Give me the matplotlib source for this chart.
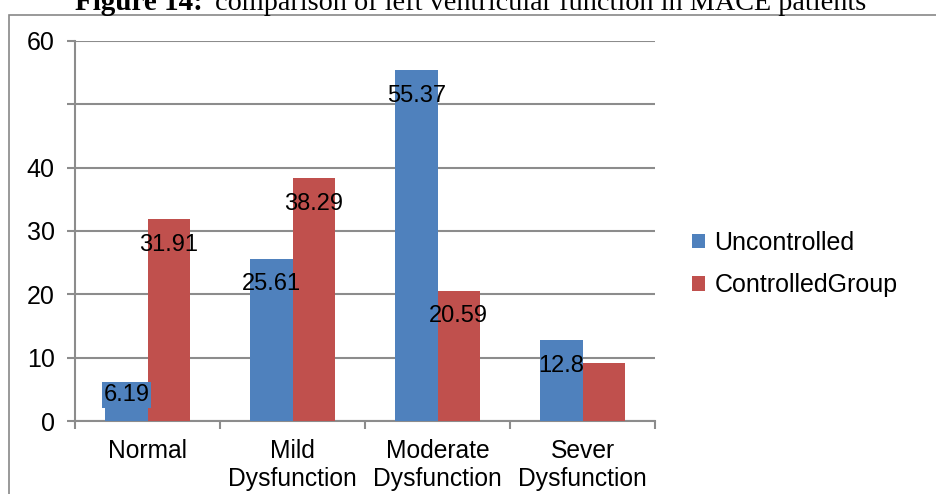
import matplotlib.pyplot as plt
import numpy as np
from matplotlib.patches import Rectangle

plt.rcParams['font.family'] = ['Liberation Sans', 'DejaVu Sans']

# Data
categories = ['Normal', 'Mild\nDysfunction', 'Moderate\nDysfunction', 'Sever\nDysfunction']
uncontrolled = [6.19, 25.61, 55.37, 12.8]
controlled = [31.91, 38.29, 20.59, 9.2]
uncontrolled_labels = ['6.19', '25.61', '55.37', '12.8']
controlled_labels = ['31.91', '38.29', '20.59', '']
y_ticks = [0, 10, 20, 30, 40, 50, 60]
y_tick_labels = ['0', '10', '20', '30', '40', '', '60']

blue = '#4F81BD'
red = '#C0504D'
grid_col = '#8C8C8C'

W, H = 936, 494
fig = plt.figure(figsize=(W / 100, H / 100), dpi=100)
fig.patch.set_facecolor('white')

# chart frame (runs off the right/bottom edges)
fig.patches.append(Rectangle((9 / W, -0.1), 1.2, 1.1 - 15 / H, transform=fig.transFigure,
                             fill=False, edgecolor='#888888', linewidth=1.2))

# title, clipped at the top like the source
fig.text(75 / W, 1 - 10 / H, 'Figure 14:', ha='left', va='baseline',
         family='Liberation Serif', fontweight='bold', fontsize=21)
fig.text(215 / W, 1 - 10 / H, 'comparison of left ventricular function in MACE patients',
         ha='left', va='baseline', family='Liberation Serif', fontsize=20.3)

ax = fig.add_axes([75 / W, 1 - 421 / H, 580 / W, 380 / H])
x = np.arange(len(categories))
w = 0.29
b1 = ax.bar(x - w / 2, uncontrolled, w, color=blue, label='Uncontrolled', zorder=3)
b2 = ax.bar(x + w / 2, controlled, w, color=red, label='ControlledGroup', zorder=3)

ax.set_xlim(-0.5, len(categories) - 0.5)
ax.set_ylim(0, 60)
ax.set_yticks(y_ticks)
ax.set_yticklabels(y_tick_labels)
ax.yaxis.grid(True, color=grid_col, linewidth=1.5, zorder=0)
ax.set_axisbelow(True)

ax.set_xticks(x)
ax.set_xticklabels(categories, fontsize=17.7, linespacing=1.2)
ax.tick_params(axis='x', length=0, pad=13)
ax.set_xticks(np.arange(-0.5, len(categories)), minor=True)
ax.tick_params(axis='x', which='minor', length=6, width=1.5, color=grid_col, direction='out')
ax.tick_params(axis='y', length=6, width=1.5, color=grid_col, labelsize=18, pad=8.5)

for s in ['top', 'right']:
    ax.spines[s].set_visible(False)
for s in ['left', 'bottom']:
    ax.spines[s].set_color(grid_col)
    ax.spines[s].set_linewidth(1.5)

# data labels
for rect, lab in zip(b1, uncontrolled_labels):
    cx = rect.get_x() + rect.get_width() / 2
    if rect.get_height() < 10:
        ax.annotate(lab, (cx, rect.get_height()), xytext=(0, -1.5), textcoords='offset points',
                    ha='center', va='top', fontsize=17, zorder=4,
                    bbox=dict(boxstyle='square,pad=0.08', fc=blue, ec='none'))
    else:
        ax.annotate(lab, (cx, rect.get_height()), xytext=(0, -18.5), textcoords='offset points',
                    ha='center', va='center', fontsize=17, zorder=4)
for rect, lab in zip(b2, controlled_labels):
    cx = rect.get_x() + rect.get_width() / 2
    ax.annotate(lab, (cx, rect.get_height()), xytext=(0, -18.5), textcoords='offset points',
                ha='center', va='center', fontsize=17, zorder=4)

ax.legend(loc='center left', bbox_to_anchor=(692 / W, 1 - 264 / H), bbox_transform=fig.transFigure,
          frameon=False, fontsize=18, handlelength=0.5, handleheight=0.5, handletextpad=0.4,
          labelspacing=0.75, borderpad=0, borderaxespad=0)

fig.savefig('out.png', dpi=100, facecolor='white')
